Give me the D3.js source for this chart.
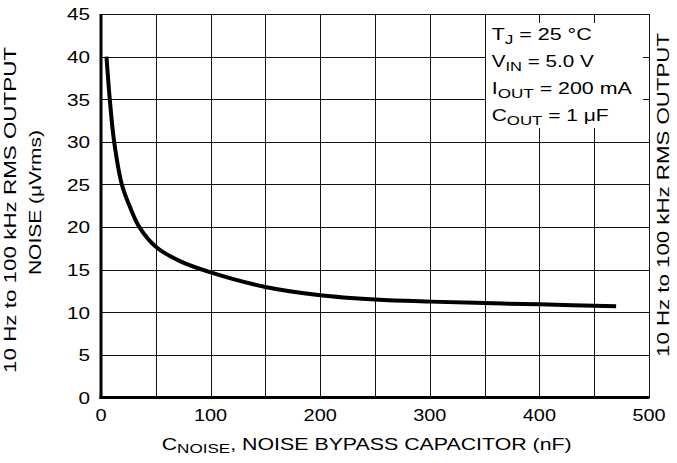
<!DOCTYPE html>
<html>
<head>
<meta charset="utf-8">
<script src="https://cdn.jsdelivr.net/npm/d3@7"></script>
<style>
  html, body { margin: 0; padding: 0; background: #fff; }
  svg { display: block; }
  text { font-family: "Liberation Sans", Arial, Helvetica, sans-serif; fill: #000; }
</style>
</head>
<body>
<svg id="chart" width="677" height="463"></svg>
<script>
// ---- data ----
const capNF    = [5, 8, 12, 19, 26, 35, 50, 72, 100, 150, 200, 250, 300, 350, 400, 470];
const noiseUV  = [40, 35, 30, 25, 22.5, 20, 17.7, 16.0, 14.68, 12.97, 12.0, 11.5, 11.25, 11.08, 10.93, 10.7];
const xTickVals = [0, 100, 200, 300, 400, 500];
const yTickVals = [0, 5, 10, 15, 20, 25, 30, 35, 40, 45];
const xGridVals = d3.range(0, 501, 50);
const yGridVals = d3.range(0, 46, 5);
const legendLines = [
  { main: "T", sub: "J", rest: " = 25 °C" },
  { main: "V", sub: "IN", rest: " = 5.0 V" },
  { main: "I", sub: "OUT", rest: " = 200 mA" },
  { main: "C", sub: "OUT", rest: " = 1 μF" }
];

// ---- layout ----
const svg = d3.select("#chart");
const L = 101, R = 649, T = 14, B = 397.5;
const x = d3.scaleLinear().domain([0, 500]).range([L, R]);
const y = d3.scaleLinear().domain([0, 45]).range([B, T]);
const FS = 17;

function stretchTo(sel, target) {
  sel.each(function () {
    this.setAttribute("textLength", target);
    this.setAttribute("lengthAdjust", "spacingAndGlyphs");
  });
}
function stretchBy(sel, f) {
  sel.each(function () {
    const w = this.getComputedTextLength();
    this.setAttribute("textLength", (w * f).toFixed(2));
    this.setAttribute("lengthAdjust", "spacingAndGlyphs");
  });
}

// grid
const grid = svg.append("g").attr("stroke", "#111").attr("stroke-width", 1).attr("shape-rendering", "crispEdges");
grid.selectAll("line.v").data(xGridVals).join("line")
  .attr("x1", d => Math.round(x(d)) + 0.5).attr("x2", d => Math.round(x(d)) + 0.5)
  .attr("y1", T).attr("y2", B);
grid.selectAll("line.h").data(yGridVals).join("line")
  .attr("y1", d => Math.round(y(d)) + 0.5).attr("y2", d => Math.round(y(d)) + 0.5)
  .attr("x1", L).attr("x2", R);

// legend background (white box hides grid)
svg.append("rect").attr("x", 486).attr("y", 23).attr("width", 157).attr("height", 105).attr("fill", "#fff");

// axes lines (thick left & bottom)
svg.append("line").attr("x1", L).attr("x2", L).attr("y1", T).attr("y2", B + 1.5)
  .attr("stroke", "#000").attr("stroke-width", 3);
svg.append("line").attr("x1", L - 1.5).attr("x2", R + 0.5).attr("y1", B).attr("y2", B)
  .attr("stroke", "#000").attr("stroke-width", 3);

// curve
const pts = capNF.map((c, i) => [c, noiseUV[i]]);
const line = d3.line().x(d => x(d[0])).y(d => y(d[1])).curve(d3.curveCatmullRom.alpha(0.5));
svg.append("path").datum(pts).attr("d", line)
  .attr("fill", "none").attr("stroke", "#000").attr("stroke-width", 4)
  .attr("stroke-linecap", "butt").attr("stroke-linejoin", "round");

// y tick labels
const yl = svg.append("g").selectAll("text").data(yTickVals).join("text")
  .attr("x", 90).attr("y", d => y(d) + 6.3).attr("text-anchor", "end")
  .attr("font-size", FS).text(d => d);
stretchBy(yl, 1.22);

// x tick labels
const xl = svg.append("g").selectAll("text").data(xTickVals).join("text")
  .attr("x", d => x(d)).attr("y", 420.6).attr("text-anchor", "middle")
  .attr("font-size", FS).text(d => d);
stretchBy(xl, 1.17);

// x title
const xt = svg.append("text").attr("x", 161.7).attr("y", 449.5).attr("font-size", FS);
xt.append("tspan").text("C");
xt.append("tspan").attr("font-size", FS * 0.8).attr("dy", 3).text("NOISE");
xt.append("tspan").attr("dy", -3).text(", NOISE BYPASS CAPACITOR (nF)");
stretchTo(xt, 410);

// left titles
const lt1 = svg.append("text").attr("transform", "translate(16,210) rotate(-90)")
  .attr("text-anchor", "middle").attr("font-size", FS).text("10 Hz to 100 kHz RMS OUTPUT");
stretchTo(lt1, 326);
const lt2 = svg.append("text").attr("transform", "translate(41,202.5) rotate(-90)")
  .attr("text-anchor", "middle").attr("font-size", FS).text("NOISE (μVrms)");
stretchTo(lt2, 145);

// right title
const rt = svg.append("text").attr("transform", "translate(669,195) rotate(-90)")
  .attr("text-anchor", "middle").attr("font-size", FS).text("10 Hz to 100 kHz RMS OUTPUT");
stretchTo(rt, 324);

// legend text
const legendW = [100, 102, 140, 117];
const legBase = [40, 66.8, 94, 120.7];
legendLines.forEach((l, i) => {
  const t = svg.append("text").attr("x", 491.7).attr("y", legBase[i]).attr("font-size", FS);
  t.append("tspan").text(l.main);
  t.append("tspan").attr("font-size", FS * 0.8).attr("dy", 4).text(l.sub);
  t.append("tspan").attr("dy", -4).text(l.rest);
  stretchTo(t, legendW[i]);
});
</script>
</body>
</html>
